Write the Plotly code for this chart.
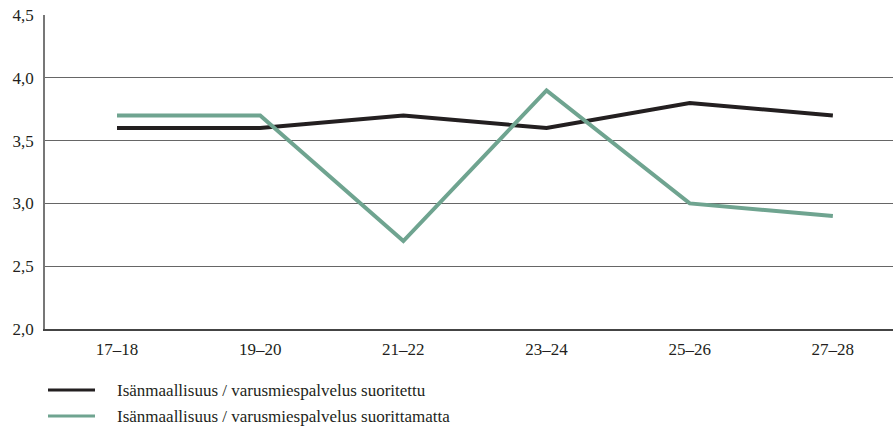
import plotly.graph_objects as go

# age groups on the x axis
ages = ["17–18", "19–20", "21–22", "23–24", "25–26", "27–28"]

# mean scores
suoritettu = [3.6, 3.6, 3.7, 3.6, 3.8, 3.7]
suorittamatta = [3.7, 3.7, 2.7, 3.9, 3.0, 2.9]

names = ["Isänmaallisuus / varusmiespalvelus suoritettu",
         "Isänmaallisuus / varusmiespalvelus suorittamatta"]
colors = ["#231f20", "#6fa490"]

y_ticks = [2.0, 2.5, 3.0, 3.5, 4.0, 4.5]
y_labels = ["2,0", "2,5", "3,0", "3,5", "4,0", "4,5"]

FONT = "Times New Roman, DejaVu Serif, Noto Serif, serif"

fig = go.Figure()
for vals, name, col in zip([suoritettu, suorittamatta], names, colors):
    fig.add_trace(go.Scatter(x=list(range(len(ages))), y=vals, mode="lines",
                             name=name, line=dict(color=col, width=4),
                             showlegend=False))

fig.update_layout(
    width=894, height=427,
    margin=dict(l=45, r=1, t=15, b=98),
    paper_bgcolor="white", plot_bgcolor="white",
    font=dict(family=FONT, size=17, color="#231f20"),
    xaxis=dict(tickmode="array", tickvals=list(range(len(ages))), ticktext=ages,
               range=[-0.503, 5.42], showgrid=False, zeroline=False,
               showline=True, linecolor="#444", linewidth=1.5, ticks="",
               ticklabelstandoff=4),
    yaxis=dict(tickmode="array", tickvals=y_ticks, ticktext=y_labels,
               range=[2.0, 4.5], showgrid=True, gridcolor="#666", gridwidth=1,
               zeroline=False, showline=True, linecolor="#777", linewidth=1.5,
               ticks="", ticklabelstandoff=6),
)

# hand-drawn legend below the plot
px_w = 848
for i, (name, col) in enumerate(zip(names, colors)):
    ypix = 390 + i * 26
    yp = (329 - ypix) / 314
    fig.add_shape(type="line", xref="paper", yref="paper",
                  x0=(48 - 45) / px_w, x1=(95 - 45) / px_w, y0=yp, y1=yp,
                  line=dict(color=col, width=3))
    fig.add_annotation(xref="paper", yref="paper", x=(115 - 45) / px_w, y=yp,
                       text=name, showarrow=False, xanchor="left", yanchor="middle",
                       font=dict(family=FONT, size=17, color="#231f20"))

fig.write_html("out.html", config={"displayModeBar": False},
               post_script="document.body.style.margin='0';")
